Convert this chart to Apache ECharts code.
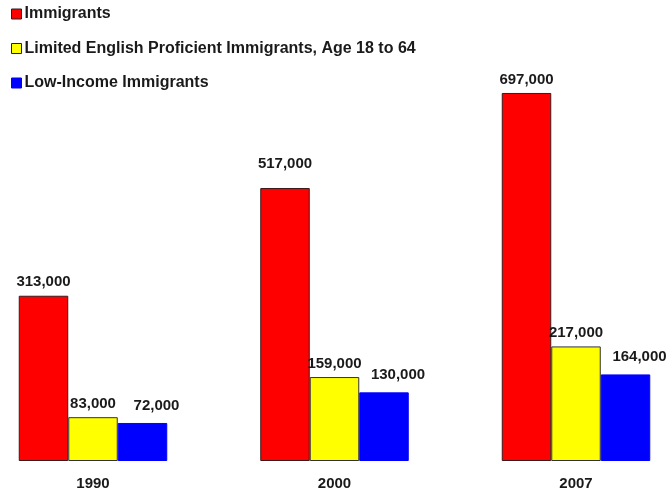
<!DOCTYPE html>
<html>
<head>
<meta charset="utf-8">
<script src="https://cdn.jsdelivr.net/npm/echarts@6/dist/echarts.min.js"></script>
<style>
  html, body { margin: 0; padding: 0; background: #ffffff; }
  #chart { width: 671px; height: 496px; }
</style>
</head>
<body>
<div id="chart"></div>
<script>
// Immigrant population counts by year
const years = ['1990', '2000', '2007'];
const seriesNames = [
  'Immigrants',
  'Limited English Proficient Immigrants, Age 18 to 64',
  'Low-Income Immigrants'
];
const immigrants = [313000, 517000, 697000];
const lepImmigrants = [83000, 159000, 217000];
const lowIncomeImmigrants = [72000, 130000, 164000];

const colors = ['#ff0000', '#ffff00', '#0000ff'];
const borders = ['#3a1a1a', '#333333', '#0000ff'];
const fmt = v => v.toLocaleString('en-US');
const font = 'Arial, "Liberation Sans", Helvetica, sans-serif';

function buildSeries(name, values, idx) {
  const labelOffset = idx === 2 ? [14, -4] : [0, 0];
  return {
    name: name,
    type: 'bar',
    barWidth: 49.5,
    barGap: '0%',
    itemStyle: { color: colors[idx], borderColor: borders[idx], borderWidth: 1 },
    label: {
      show: true,
      position: 'top',
      distance: 6,
      offset: labelOffset,
      color: '#1a1a1a',
      fontFamily: font,
      fontWeight: 'bold',
      fontSize: 15,
      formatter: p => fmt(p.value)
    },
    data: values.map((v, i) => {
      // the tallest 2000 label sits a little higher above its bar
      if (idx === 0 && i === 1) {
        return { value: v, label: { offset: [0, -11] } };
      }
      return v;
    })
  };
}

const chart = echarts.init(document.getElementById('chart'), null, { renderer: 'canvas' });
chart.setOption({
  backgroundColor: '#ffffff',
  animation: false,
  color: colors,
  legend: {
    orient: 'vertical',
    left: 11,
    top: 6,
    padding: 0,
    itemWidth: 10,
    itemHeight: 10,
    itemGap: 18.5,
    icon: 'rect',
    selectedMode: false,
    textStyle: {
      color: '#1a1a1a',
      fontFamily: font,
      fontWeight: 'bold',
      fontSize: 16,
      lineHeight: 16,
      padding: [0, 0, 0, -2]
    },
    data: seriesNames.map((n, i) => ({
      name: n,
      itemStyle: { borderColor: i === 2 ? colors[2] : '#222', borderWidth: 1 }
    }))
  },
  // category points sit on the grid edges, so the groups land at fixed centres
  grid: { left: 93, right: 95, top: 38.6, bottom: 35 },
  xAxis: {
    type: 'category',
    data: years,
    boundaryGap: false,
    axisLine: { show: false },
    axisTick: { show: false },
    axisLabel: {
      margin: 15,
      color: '#1a1a1a',
      fontFamily: font,
      fontWeight: 'bold',
      fontSize: 15
    }
  },
  yAxis: {
    type: 'value',
    min: 0,
    max: 800000,
    show: false,
    splitLine: { show: false }
  },
  series: [
    buildSeries(seriesNames[0], immigrants, 0),
    buildSeries(seriesNames[1], lepImmigrants, 1),
    buildSeries(seriesNames[2], lowIncomeImmigrants, 2)
  ]
});
</script>
</body>
</html>
